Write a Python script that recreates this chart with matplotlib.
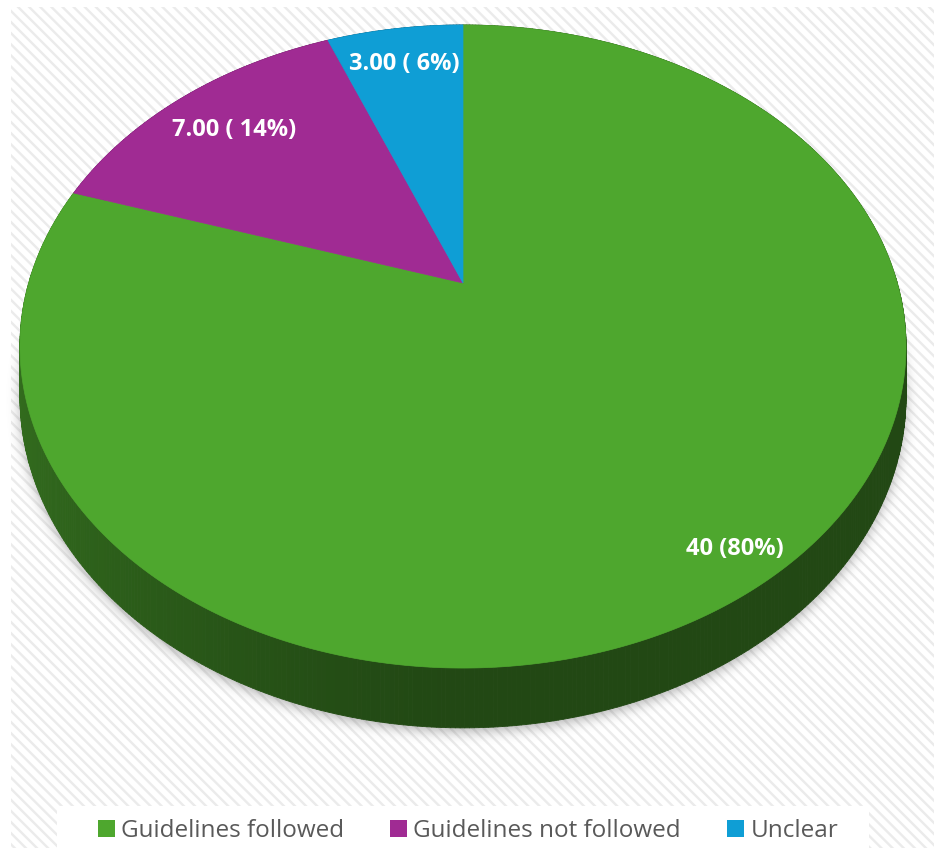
import numpy as np
import matplotlib
matplotlib.use("Agg")
import matplotlib.pyplot as plt
from matplotlib.patches import Polygon, Rectangle, Patch
from matplotlib.collections import PolyCollection
from matplotlib.path import Path

categories = ['Guidelines followed', 'Guidelines not followed', 'Unclear']
counts = [40, 7, 3]
data_labels = ['40 (80%)', '7.00 ( 14%)', '3.00 ( 6%)']
colors = ['#4EA72E', '#A02B93', '#0F9ED5']

plt.rcParams['font.family'] = ['Open Sans', 'DejaVu Sans']
plt.rcParams['hatch.linewidth'] = 1.7

W, H = 934, 848
fig = plt.figure(figsize=(W / 100, H / 100), dpi=100, facecolor='white')
ax = fig.add_axes([0, 0, 1, 1])
ax.set_xlim(0, W)
ax.set_ylim(H, 0)
ax.axis('off')

# striped backdrop
ax.add_patch(Rectangle((11, 7), W - 11, H - 7, facecolor='white',
                       edgecolor='#ebebeb', hatch='\\\\\\', lw=0, zorder=0))

# perspective projection of a tilted disc (u right, v toward viewer, z down)
cx, cy = 463.0, 283.0
sx, sy = 434.3, 309.0
persp = 0.1975
depth = 48.0


def project(u, v, z=0.0):
    w = 1.0 - persp * v
    return cx + sx * u / w, cy + (sy * v + depth * z) / w


def rim(phi, z=0.0, r=1.0):
    # phi in degrees, clockwise from 12 o'clock
    a = np.radians(phi)
    return project(r * np.sin(a), -r * np.cos(a), z)


total = float(sum(counts))
ends = np.cumsum(counts) / total * 360.0
starts = np.concatenate([[0.0], ends[:-1]])

# soft drop shadow under the disc
phis = np.linspace(0, 360, 721)
bx, by = rim(phis, z=1.0)
gx, gy = np.meshgrid(np.arange(W) + 0.5, np.arange(H) + 0.5)
inside = Path(np.column_stack([bx, by + 4])).contains_points(
    np.column_stack([gx.ravel(), gy.ravel()])).reshape(H, W).astype(float)
kx = np.arange(-18, 19)
kern = np.exp(-kx ** 2 / (2 * 6.0 ** 2))
kern /= kern.sum()
blur = np.apply_along_axis(lambda r: np.convolve(r, kern, mode='same'), 1, inside)
blur = np.apply_along_axis(lambda c: np.convolve(c, kern, mode='same'), 0, blur)
shadow = np.zeros((H, W, 4))
shadow[..., :3] = 0.35
shadow[..., 3] = blur * 0.45
ax.imshow(shadow, extent=(0, W, H, 0), zorder=1, interpolation='bilinear')

# side wall, shaded strips per slice
strips, strip_cols = [], []
for s0, s1, col in zip(starts, ends, colors):
    base = np.array(matplotlib.colors.to_rgb(col))
    a = np.linspace(s0, s1, max(int((s1 - s0) * 2), 2))
    for p0, p1 in zip(a[:-1], a[1:]):
        x0, y0 = rim(p0)
        x1, y1 = rim(p1)
        x2, y2 = rim(p1, 1.0)
        x3, y3 = rim(p0, 1.0)
        u = np.sin(np.radians((p0 + p1) / 2))
        f = 0.43 + 0.22 * max(0.0, -u) ** 1.3
        strips.append([(x0, y0), (x1, y1), (x2, y2), (x3, y3)])
        strip_cols.append(np.clip(base * f, 0, 1))
ax.add_collection(PolyCollection(strips, facecolors=strip_cols,
                                 edgecolors=strip_cols, linewidths=0.6, zorder=2))

# top face
for s0, s1, col in zip(starts, ends, colors):
    a = np.linspace(s0, s1, max(int((s1 - s0) * 2), 2))
    xs, ys = rim(a)
    pts = np.column_stack([np.concatenate([[cx], xs]), np.concatenate([[cy], ys])])
    ax.add_patch(Polygon(pts, closed=True, facecolor=col, edgecolor=col,
                         lw=0.5, zorder=3))

# data labels along each slice's mid angle
label_r = [0.91, 0.80, 0.84]
for s0, s1, txt, r in zip(starts, ends, data_labels, label_r):
    lx, ly = rim((s0 + s1) / 2, r=r)
    ax.text(lx, ly, txt, color='white', fontsize=17, fontweight='bold',
            ha='center', va='center', zorder=4)

# legend strip
ax.add_patch(Rectangle((57, 806), 812, 42, facecolor='white', lw=0, zorder=4))
handles = [Patch(facecolor=c, edgecolor='none') for c in colors]
fig.legend(handles, categories, loc='center', bbox_to_anchor=(468 / W, 1 - 831 / H),
           ncol=3, frameon=False, fontsize=17.5, labelcolor='#595959',
           handlelength=0.7, handleheight=0.7, handletextpad=0.25,
           columnspacing=1.9, borderpad=0)

fig.savefig('out.png', dpi=100, facecolor='white')
